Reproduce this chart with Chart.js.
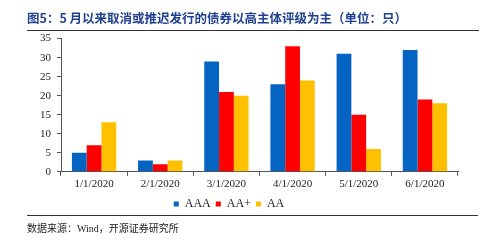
<!DOCTYPE html>
<html><head><meta charset="utf-8">
<script src="https://cdn.jsdelivr.net/npm/chart.js@4/dist/chart.umd.min.js"></script>
<style>
html,body{margin:0;padding:0;background:#fff;width:500px;height:241px;overflow:hidden;position:relative}
#title{position:absolute;left:27px;top:9px;font-family:"Noto Sans CJK SC";font-weight:bold;font-size:12.5px;color:#1f3f8f;white-space:nowrap;line-height:18px}
#tline{position:absolute;left:27px;top:30px;width:452px;height:0;border-top:1px solid #333}
#bline{position:absolute;left:27px;top:215px;width:451px;height:0;border-top:1px solid #333}
#src{position:absolute;left:27px;top:220px;font-family:"Noto Sans CJK SC";font-size:10px;color:#222;white-space:nowrap;line-height:16px}
#wrap{position:absolute;left:0;top:26px;width:500px;height:194px}
</style></head><body>
<div id="wrap"><canvas id="c"></canvas></div>
<div id="title">图5：5 月以来取消或推迟发行的债券以高主体评级为主（单位：只）</div>
<div id="tline"></div>
<div id="bline"></div>
<div id="src">数据来源：<span style="font-family:'Liberation Serif'">Wind</span>，开源证券研究所</div>
<script>
const categories = ["1/1/2020","2/1/2020","3/1/2020","4/1/2020","5/1/2020","6/1/2020"];
const seriesNames = ["AAA","AA+","AA"];
const aaa = [5,3,29,23,31,32];
const aaPlus = [7,2,21,33,15,19];
const aa = [13,3,20,24,6,18];
const yTicks = [0,5,10,15,20,25,30,35];
const colors = ["#0563c1","#ff0000","#ffc000"];
const font = {family:"'Liberation Serif','Times New Roman',serif", size:11};
new Chart(document.getElementById('c'),{
  type:'bar',
  data:{labels:categories,datasets:[
    {label:seriesNames[0],data:aaa,backgroundColor:colors[0]},
    {label:seriesNames[1],data:aaPlus,backgroundColor:colors[1]},
    {label:seriesNames[2],data:aa,backgroundColor:colors[2]}
  ]},
  options:{
    responsive:true,maintainAspectRatio:false,animation:false,
    devicePixelRatio:1,
    layout:{padding:{left:0,right:42,top:6,bottom:0}},
    datasets:{bar:{categoryPercentage:0.67,barPercentage:1}},
    plugins:{
      legend:{position:'bottom',labels:{boxWidth:5,boxHeight:5,padding:5,color:'#222',font:{family:font.family,size:12}}},
      tooltip:{enabled:false}
    },
    scales:{
      x:{grid:{display:true,drawOnChartArea:false,offset:true,tickLength:4,color:'#555'},
         border:{color:'#555'},
         ticks:{color:'#222',font:font,maxRotation:0,padding:2}},
      y:{min:0,max:35,afterBuildTicks:a=>{a.ticks=yTicks.map(v=>({value:v}));},
         afterFit:s=>{s.width=61;},
         grid:{display:true,drawOnChartArea:false,tickLength:4,color:'#555'},
         border:{color:'#555'},
         ticks:{color:'#222',font:font,padding:6}}
    }
  }
});
</script>
</body></html>
